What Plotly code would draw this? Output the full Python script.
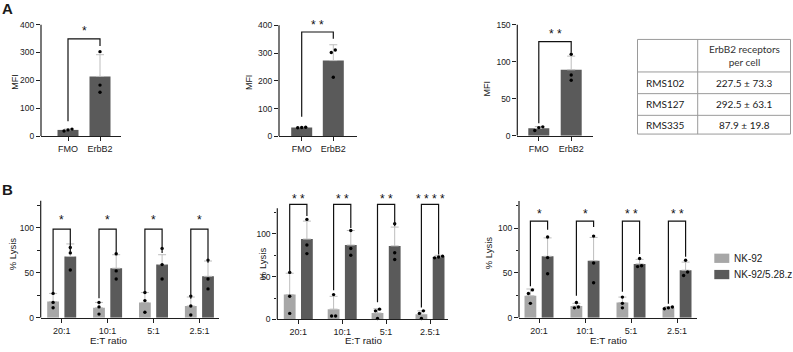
import plotly.graph_objects as go

# ---------------- data ----------------
# Panel A : MFI (FMO vs ErbB2) for three cell lines
a_categories = ["FMO", "ErbB2"]
a1_means = [22, 214]
a1_sd = [3, 78]
a1_points = [[25, 22, 18], [303, 183, 157]]
a2_means = [32, 273]
a2_sd = [1, 57]
a2_points = [[33, 32, 31], [311, 302, 213]]
a3_means = [10, 89]
a3_sd = [2.5, 18.5]
a3_points = [[12, 11, 7], [110, 82, 75]]
a_stars = ["*", "**", "**"]
a_star_level = [376, 402, 138]
a_bracket_level = [349, 376, 127]
a_leg_ends = [(53, 323), (71, 352), (17, 112)]
a_yticks = [[0, 100, 200, 300, 400], [0, 100, 200, 300, 400], [0, 50, 100, 150]]
a_axis_top = [400, 400, 150]

# Table
table_col_header = "ErbB2 receptors<br>per cell"
table_lines = ["RMS102", "RMS127", "RMS335"]
table_values = ["227.5 ± 73.3", "292.5 ± 63.1", "87.9 ± 19.8"]

# Panel B : % lysis vs E:T ratio
b_ratios = ["20:1", "10:1", "5:1", "2.5:1"]
b_series = ["NK-92", "NK-92/5.28.z"]

b1_nk_means = [18, 11, 17, 13]
b1_nk_sd = [9, 6, 11, 10]
b1_nk_points = [[27, 17, 11], [17, 12, 4], [28, 19, 6], [24, 13, 3]]
b1_car_means = [68, 55, 59, 46]
b1_car_sd = [14, 15, 11, 17]
b1_car_points = [[78, 72, 53], [71, 52, 43], [77, 59, 43], [64, 43, 32]]
b1_stars = ["*", "*", "*", "*"]
b1_legs = [(28, 72), (21.5, 72), (28, 72), (21, 61)]

b2_nk_means = [29, 12, 7.5, 6]
b2_nk_sd = [25, 15, 5, 4]
b2_nk_points = [[55, 27, 7], [29, 4, 4], [12, 10, 1], [10, 7, 1]]
b2_car_means = [94, 87, 86, 73]
b2_car_sd = [21, 17, 22, 2]
b2_car_points = [[117, 87, 77], [104, 83, 75], [112, 78, 70], [74, 73, 72]]
b2_stars = ["**", "**", "**", "****"]
b2_legs = [(55, 121), (34, 107), (20, 109), (14, 76)]

b3_nk_means = [24.5, 13, 17, 11]
b3_nk_sd = [7.5, 3, 6, 1.5]
b3_nk_points = [[31, 27, 16], [17, 12, 11], [23, 16, 11], [12, 11, 10]]
b3_car_means = [68.5, 63.5, 60, 53]
b3_car_sd = [20.5, 26, 5, 9]
b3_car_points = [[90, 67, 49], [91, 61, 39], [66, 58, 57], [64, 51, 47]]
b3_stars = ["*", "*", "**", "**"]
b3_legs = [(35, 98), (24.5, 101), (29, 71), (15.6, 68)]

b_bracket_level = [98.5, 134.5, 107.7]
b_star_level = [108.4, 140.4, 115.6]
b_yticks = [0, 50, 100]
b_yminor = [25, 75, 125]
b_axis_top = 130

# ---------------- styling / geometry ----------------
W, H = 793, 352
FONT = "Liberation Sans, Arial, sans-serif"
TFONT = "Lato, Liberation Sans, sans-serif"
AX = "#1f1f1f"
TXT = "#1a1a1a"
LIGHT = "#a7a7a7"
DARK = "#5a5a5a"
ERR = "#bdbdbd"

# pixel geometry of each panel (left axis, right end, category-0 centre, spacing, zero px, ref px, ref value, top px)
geom = {
    1: dict(left=41, right=121, c0=68, sp=32, py0=138, pyref=25, vref=400, top=3),
    2: dict(left=279, right=357, c0=301.7, sp=31.6, py0=138.3, pyref=25.7, vref=400, top=3),
    3: dict(left=517.3, right=593.3, c0=538.8, sp=32.4, py0=137.7, pyref=25, vref=150, top=3),
    4: dict(left=40.7, right=219, c0=61.7, sp=45.9, py0=322.3, pyref=231, vref=100, top=185),
    5: dict(left=277.3, right=448.3, c0=298.3, sp=43.9, py0=324, pyref=237.3, vref=100, top=185),
    6: dict(left=519, right=696.7, c0=539, sp=46, py0=322.3, pyref=231.3, vref=100, top=185),
}

fig = go.Figure()
shapes = []
annotations = []
layout_axes = {}


def ids(n):
    return ("x" if n == 1 else f"x{n}"), ("y" if n == 1 else f"y{n}")


def scale(n):
    g = geom[n]
    return (g["py0"] - g["pyref"]) / g["vref"]


def spread(vals, spx, sp, gap=4.0):
    order = sorted(range(len(vals)), key=lambda i: vals[i])
    clusters = []
    for i in order:
        if clusters and abs(vals[i] - vals[clusters[-1][-1]]) * spx < gap:
            clusters[-1].append(i)
        else:
            clusters.append([i])
    offs = [0.0] * len(vals)
    for c in clusters:
        k = len(c)
        for j, i in enumerate(c):
            offs[i] = (j - (k - 1) / 2) * gap / sp
    return offs


def setup_axes(n, tickvals, ticktext, yticks, yminor, axis_top, xfont):
    g = geom[n]
    xid, yid = ids(n)
    s = scale(n)
    ytop = (g["py0"] - g["top"]) / s
    xa = dict(
        domain=[g["left"] / W, g["right"] / W],
        range=[(g["left"] - g["c0"]) / g["sp"], (g["right"] - g["c0"]) / g["sp"]],
        showline=True, linecolor=AX, linewidth=1.2,
        ticks="outside", ticklen=4, tickwidth=1.2, tickcolor=AX,
        tickmode="array", tickvals=tickvals, ticktext=ticktext,
        tickfont=dict(family=FONT, size=xfont, color=TXT),
        showgrid=False, zeroline=False, anchor=yid, fixedrange=True,
    )
    ya = dict(
        domain=[1 - g["py0"] / H, 1 - g["top"] / H],
        range=[0, ytop],
        showline=False,
        ticks="outside", ticklen=4, tickwidth=1.2, tickcolor=AX,
        tickmode="array", tickvals=yticks,
        tickfont=dict(family=FONT, size=8.5, color=TXT),
        showgrid=False, zeroline=False, anchor=xid, fixedrange=True,
    )
    if yminor:
        ya["minor"] = dict(tickmode="array", tickvals=yminor, ticks="outside",
                           ticklen=2.5, tickwidth=1.2, tickcolor=AX, showgrid=False)
    layout_axes["xaxis" if n == 1 else f"xaxis{n}"] = xa
    layout_axes["yaxis" if n == 1 else f"yaxis{n}"] = ya
    # y axis line only up to the last tick (GraphPad style)
    shapes.append(dict(type="line", xref=f"{xid} domain", yref=yid, x0=0, x1=0,
                       y0=0, y1=axis_top, line=dict(color=AX, width=1.2)))


def add_bars(n, xs, means, sd, points, color, width_px, name=None):
    g = geom[n]
    xid, yid = ids(n)
    fig.add_trace(go.Bar(
        x=xs, y=means, width=width_px / g["sp"], marker=dict(color=color, line=dict(width=0)),
        error_y=dict(type="data", array=sd, arrayminus=[0] * len(sd), symmetric=False,
                     color=ERR, thickness=1, width=4),
        xaxis=xid, yaxis=yid, showlegend=False, name=name or "",
    ))
    px_, py_ = [], []
    for x, pts in zip(xs, points):
        offs = spread(pts, scale(n), g["sp"])
        for o, v in zip(offs, pts):
            px_.append(x + o)
            py_.append(v)
    fig.add_trace(go.Scatter(
        x=px_, y=py_, mode="markers", marker=dict(color="#000000", size=3.4),
        xaxis=xid, yaxis=yid, showlegend=False, cliponaxis=False,
    ))


def add_bracket(n, xl, xr, yl, yr, yb, star, ystar):
    xid, yid = ids(n)
    shapes.append(dict(type="path", xref=xid, yref=yid,
                       path=f"M {xl},{yl} L {xl},{yb} L {xr},{yb} L {xr},{yr}",
                       line=dict(color="#111111", width=1.2)))
    annotations.append(dict(x=(xl + xr) / 2, y=ystar, xref=xid, yref=yid,
                            text=" ".join(list(star)), showarrow=False,
                            font=dict(family=FONT, size=12, color="#111111"),
                            xanchor="center", yanchor="middle"))


# ---------------- Panel A ----------------
a_data = [(a1_means, a1_sd, a1_points), (a2_means, a2_sd, a2_points), (a3_means, a3_sd, a3_points)]
for k in range(3):
    n = k + 1
    means, sd, pts = a_data[k]
    setup_axes(n, [0, 1], a_categories, a_yticks[k], None, a_axis_top[k], 9)
    add_bars(n, [0, 1], means, sd, pts, DARK, 21)
    add_bracket(n, 0, 1, a_leg_ends[k][0], a_leg_ends[k][1], a_bracket_level[k],
                a_stars[k], a_star_level[k])

# ---------------- Panel B ----------------
b_data = [
    (b1_nk_means, b1_nk_sd, b1_nk_points, b1_car_means, b1_car_sd, b1_car_points, b1_stars, b1_legs),
    (b2_nk_means, b2_nk_sd, b2_nk_points, b2_car_means, b2_car_sd, b2_car_points, b2_stars, b2_legs),
    (b3_nk_means, b3_nk_sd, b3_nk_points, b3_car_means, b3_car_sd, b3_car_points, b3_stars, b3_legs),
]
OFF_PX = 8.6
BAR_PX = 11.8
for k in range(3):
    n = k + 4
    nkm, nks, nkp, cm, cs, cp, stars, legs = b_data[k]
    g = geom[n]
    off = OFF_PX / g["sp"]
    idx = list(range(len(b_ratios)))
    setup_axes(n, idx, b_ratios, b_yticks, b_yminor, b_axis_top, 9)
    add_bars(n, [i - off for i in idx], nkm, nks, nkp, LIGHT, BAR_PX, b_series[0])
    add_bars(n, [i + off for i in idx], cm, cs, cp, DARK, BAR_PX, b_series[1])
    for i in idx:
        add_bracket(n, i - off, i + off, legs[i][0], legs[i][1], b_bracket_level[k],
                    stars[i], b_star_level[k])

# ---------------- axis titles / labels ----------------
def pa(text, x, y, size, angle=0, bold=False, family=FONT, xanchor="center", yanchor="middle", pad=1):
    annotations.append(dict(text=f"<b>{text}</b>" if bold else text, x=x / W, y=1 - y / H,
                            xref="paper", yref="paper", showarrow=False, textangle=angle,
                            font=dict(family=family, size=size, color=TXT), borderpad=pad,
                            xanchor=xanchor, yanchor=yanchor))

pa("A", 7, 8.5, 15, bold=True)
pa("B", 7, 192, 15, bold=True)
pa("MFI", 15, 83, 9, angle=-90)
pa("MFI", 249.3, 83, 9, angle=-90)
pa("MFI", 487.3, 89.5, 9, angle=-90)
pa("% Lysis", 12, 258, 9.5, angle=-90)
pa("% Lysis", 262, 268, 9.5, angle=-90)
pa("% Lysis", 488, 257, 9.5, angle=-90)
for xc in (108.3, 363.3, 608.3):
    pa("E:T ratio", xc, 352, 9.8, yanchor="bottom", pad=0)

# ---------------- legend (custom) ----------------
leg_y = [262, 278.5]
for name, col, yc in zip(b_series, [LIGHT, DARK], leg_y):
    shapes.append(dict(type="rect", xref="paper", yref="paper",
                       x0=714.3 / W, x1=729.3 / W, y0=1 - (yc + 4.7) / H, y1=1 - (yc - 4.7) / H,
                       fillcolor=col, line=dict(width=0)))
    pa(name, 732, yc, 10, xanchor="left")

# ---------------- table ----------------
TL, TM, TR = 637.5, 697.7, 790.5
row_y = [40, 73, 95, 117, 136]
TC = "#9a9a9a"
for y in row_y:
    shapes.append(dict(type="line", xref="paper", yref="paper", x0=TL / W, x1=TR / W,
                       y0=1 - y / H, y1=1 - y / H, line=dict(color=TC, width=1)))
for x in (TL, TM, TR):
    shapes.append(dict(type="line", xref="paper", yref="paper", x0=x / W, x1=x / W,
                       y0=1 - row_y[0] / H, y1=1 - row_y[-1] / H, line=dict(color=TC, width=1)))
annotations.append(dict(text=table_col_header, x=(TM + TR) / 2 / W, y=1 - (row_y[0] + row_y[1]) / 2 / H,
                        xref="paper", yref="paper", showarrow=False, align="center",
                        font=dict(family=TFONT, size=10, color="#333333"),
                        xanchor="center", yanchor="middle"))
for i, (lab, val) in enumerate(zip(table_lines, table_values)):
    yc = (row_y[i + 1] + row_y[i + 2]) / 2
    pa(lab, TL + 6, yc, 10, family=TFONT, xanchor="left")
    pa(val, (TM + TR) / 2, yc, 10, family=TFONT)

fig.update_layout(
    width=W, height=H, autosize=False,
    margin=dict(l=0, r=0, t=0, b=0),
    paper_bgcolor="white", plot_bgcolor="white",
    barmode="overlay", showlegend=False,
    shapes=shapes, annotations=annotations,
    **layout_axes,
)

fig.write_html(
    "out.html",
    config={"displayModeBar": False, "responsive": False},
    post_script=(
        "document.body.style.margin='0';document.body.style.padding='0';"
        "document.body.style.overflow='hidden';"
        "document.documentElement.style.overflow='hidden';"
    ),
)
